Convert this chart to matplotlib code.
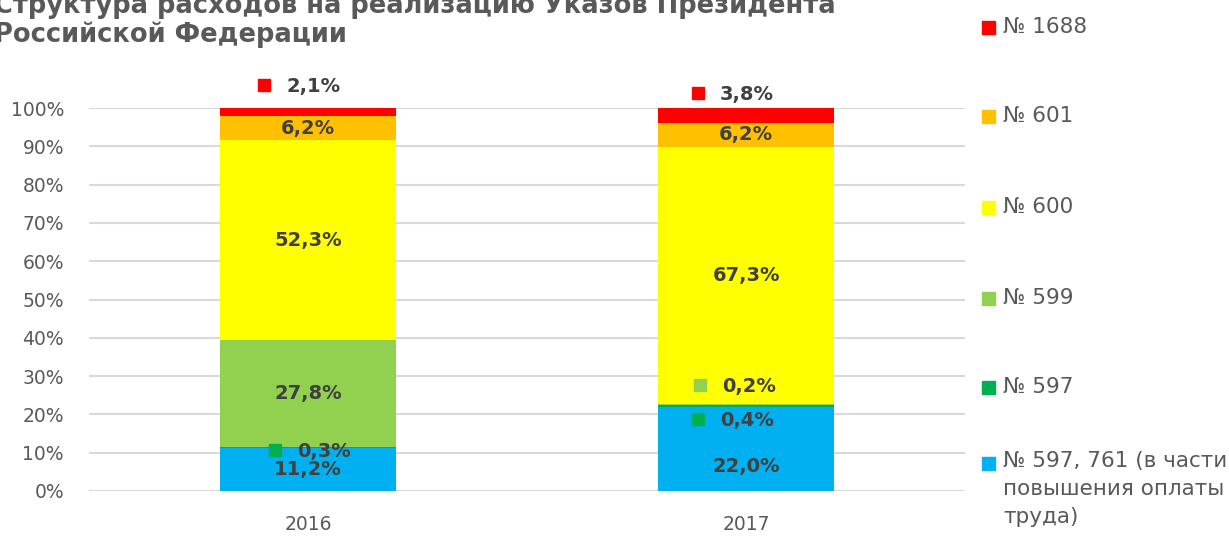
import matplotlib
matplotlib.use("Agg")
import matplotlib.pyplot as plt
from matplotlib.patches import Rectangle

plt.rcParams['font.family'] = ['DejaVu Sans']

years = ["2016", "2017"]
series = ["№ 597, 761 (в части\nповышения оплаты\nтруда)", "№ 597", "№ 599", "№ 600", "№ 601", "№ 1688"]
colors = ["#00B0F0", "#00B050", "#92D050", "#FFFF00", "#FFC000", "#FF0000"]
values = {
    "2016": [11.2, 0.3, 27.8, 52.3, 6.2, 2.1],
    "2017": [22.0, 0.4, 0.2, 67.3, 6.2, 3.8],
}
labels = {
    "2016": ["11,2%", "0,3%", "27,8%", "52,3%", "6,2%", "2,1%"],
    "2017": ["22,0%", "0,4%", "0,2%", "67,3%", "6,2%", "3,8%"],
}
yticks = [0, 10, 20, 30, 40, 50, 60, 70, 80, 90, 100]
title = "Структура расходов на реализацию Указов Президента\nРоссийской Федерации"

W, H = 1229, 549
fig = plt.figure(figsize=(W / 100, H / 100), dpi=100)
ax = fig.add_axes([89 / W, 1 - 491 / H, (965 - 89) / W, (491 - 108) / H])

grey = "#595959"
lab = "#404040"
xs = range(len(years))
bw = 0.4
for i, y in enumerate(years):
    bottom = 0
    for s, v in enumerate(values[y]):
        ax.bar(i, v, bw, bottom=bottom, color=colors[s], zorder=2)
        bottom += v

# label placement: (mode, y in data units or None for centre, x offset)
# mode 'c' centred text; 'k' text with legend key square
placement = {
    "2016": [("c", 5.6, 0), ("k", 10.2, -0.025), ("c", None, 0), ("c", None, 0), ("c", None, 0), ("k", 105.5, -0.05)],
    "2017": [("c", 6.5, 0), ("k", 18.3, -0.06), ("k", 27.4, -0.055), ("c", None, 0), ("c", None, 0), ("k", 103.6, -0.06)],
}
fs = 14
for i, y in enumerate(years):
    bottom = 0
    for s, v in enumerate(values[y]):
        mode, ypos, dx = placement[y][s]
        if ypos is None:
            ypos = bottom + v / 2
        if mode == "c":
            ax.text(i, ypos, labels[y][s], ha="center", va="center", fontsize=fs,
                    fontweight="bold", color=lab, zorder=4, clip_on=False)
        else:
            ax.plot(i + dx - 0.05, ypos + 0.4, marker="s", ms=9, color=colors[s],
                    zorder=4, clip_on=False, linestyle="none")
            ax.text(i + dx, ypos, labels[y][s], ha="left", va="center", fontsize=fs,
                    fontweight="bold", color=lab, zorder=4, clip_on=False)
        bottom += v

ax.set_xlim(-0.5, 1.5)
ax.set_ylim(0, 100)
ax.set_yticks(yticks)
ax.set_yticklabels([f"{t}%" for t in yticks])
ax.set_xticks(list(xs))
ax.set_xticklabels(years)
ax.tick_params(axis="both", length=0, labelsize=13.5, labelcolor=grey)
ax.tick_params(axis="y", pad=18)
ax.tick_params(axis="x", pad=17)
ax.grid(axis="y", color="#D9D9D9", linewidth=1.5, zorder=0)
ax.set_axisbelow(True)
for sp in ax.spines.values():
    sp.set_visible(False)

fig.text(-6 / W, 1 - 42 / H, title, ha="left", va="baseline", fontsize=18.5,
         fontweight="bold", color=grey, linespacing=1.1)

# legend (top to bottom)
leg_y = [27, 116, 207, 298, 387, 463]
for k, (s, yy) in enumerate(zip(range(len(series) - 1, -1, -1), leg_y)):
    fig.patches.append(Rectangle((982 / W, 1 - (yy + 7) / H), 13 / W, 13 / H,
                                 transform=fig.transFigure, color=colors[s], figure=fig))
    if k == len(leg_y) - 1:
        fig.text(1003 / W, 1 - (yy - 12) / H, series[s], ha="left", va="top",
                 fontsize=15.5, color=grey, linespacing=1.5)
    else:
        fig.text(1003 / W, 1 - yy / H, series[s], ha="left", va="center",
                 fontsize=15.5, color=grey)

fig.savefig("out.png", dpi=100)
